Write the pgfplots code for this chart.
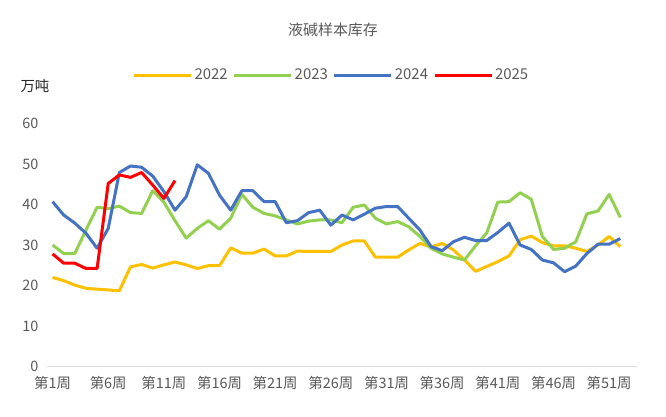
\documentclass[border=0pt]{standalone}
\usepackage{fontspec}
\setmainfont{Noto Sans CJK SC}
\usepackage{pgfplots}
\usepackage{pgfplotstable}
\pgfplotsset{compat=1.18}
\definecolor{c22}{HTML}{FFC000}
\definecolor{c23}{HTML}{92D050}
\definecolor{c24}{HTML}{4472C4}
\definecolor{c25}{HTML}{FF0000}
\definecolor{txt}{HTML}{595959}
\definecolor{axl}{HTML}{D9D9D9}

\pgfplotstableread{
w y
1 22.0
2 21.2
3 20.1
4 19.3
5 19.1
6 18.9
7 18.7
8 24.6
9 25.2
10 24.3
11 25.1
12 25.8
13 25.1
14 24.2
15 24.9
16 24.9
17 29.3
18 28.0
19 28.0
20 29.0
21 27.3
22 27.3
23 28.5
24 28.4
25 28.4
26 28.4
27 30.0
28 31.0
29 31.0
30 27.0
31 27.0
32 27.0
33 28.8
34 30.4
35 29.5
36 30.4
37 28.8
38 26.3
39 23.5
40 24.7
41 25.9
42 27.3
43 31.3
44 32.2
45 30.6
46 29.8
47 29.8
48 29.2
49 28.4
50 30.0
51 32.1
52 29.6
}\tabA

\pgfplotstableread{
w y
1 30.0
2 27.9
3 27.9
4 33.7
5 39.3
6 39.0
7 39.6
8 38.0
9 37.8
10 43.4
11 40.6
12 36.0
13 31.7
14 34.1
15 36.0
16 33.9
17 36.6
18 42.5
19 39.3
20 37.8
21 37.2
22 36.2
23 35.2
24 35.9
25 36.2
26 36.2
27 35.5
28 39.3
29 39.9
30 36.6
31 35.2
32 35.8
33 34.5
34 32.1
35 29.2
36 27.8
37 27.0
38 26.3
39 29.8
40 33.0
41 40.6
42 40.7
43 42.9
44 41.3
45 32.1
46 28.9
47 29.2
48 30.8
49 37.7
50 38.4
51 42.5
52 36.8
}\tabB

\pgfplotstableread{
w y
1 40.7
2 37.4
3 35.4
4 32.9
5 29.2
6 34.1
7 47.9
8 49.5
9 49.2
10 47.0
11 43.2
12 38.6
13 41.9
14 49.8
15 47.7
16 42.3
17 38.6
18 43.4
19 43.4
20 40.7
21 40.7
22 35.5
23 36.0
24 38.0
25 38.6
26 34.9
27 37.4
28 36.2
29 37.6
30 39.1
31 39.5
32 39.5
33 36.6
34 33.7
35 29.6
36 28.6
37 30.8
38 31.9
39 31.1
40 31.1
41 33.1
42 35.4
43 30.0
44 28.9
45 26.3
46 25.6
47 23.4
48 24.8
49 27.9
50 30.2
51 30.2
52 31.6
}\tabC

\pgfplotstableread{
w y
1 27.8
2 25.5
3 25.5
4 24.2
5 24.2
6 45.2
7 47.3
8 46.7
9 47.9
10 44.8
11 41.5
12 45.9
}\tabD

\begin{document}
\begin{tikzpicture}[x=1bp,y=1bp]
\path (-47,-49.5) rectangle (619,366.5);
\begin{axis}[
  at={(0,0)}, anchor=south west,
  scale only axis, width=590bp, height=243bp,
  xmin=0.5, xmax=53.5, ymin=0, ymax=60,
  axis line style={draw=none},
  major tick length=0pt,
  xtick={1,6,11,16,21,26,31,36,41,46,51},
  xticklabels={第1周,第6周,第11周,第16周,第21周,第26周,第31周,第36周,第41周,第46周,第51周},
  ytick={0,10,20,30,40,50,60},
  /pgf/number format/assume math mode=true,
  tick label style={font=\fontsize{14.5}{16}\selectfont, text=txt},
  xticklabel style={yshift=-6.5bp},
  yticklabel style={xshift=-5bp},
  legend columns=4,
  legend style={draw=none, fill=none, at={(0.482,1.1996)}, anchor=center,
    font=\fontsize{15}{17}\selectfont, text=txt,
    /tikz/every even column/.append style={column sep=3bp}},
  legend image code/.code={\draw[#1, line width=3bp] (0bp,0bp) -- (57bp,0bp);},
  every axis plot/.append style={line width=3bp, line join=round, mark=none},
  clip=false,
]
\draw[axl, line width=1bp] (rel axis cs:0,0) -- (rel axis cs:1,0);
\addplot[c22] table[x=w,y=y] {\tabA};
\addlegendentry{2022}
\addplot[c23] table[x=w,y=y] {\tabB};
\addlegendentry{2023}
\addplot[c24] table[x=w,y=y] {\tabC};
\addlegendentry{2024}
\addplot[c25] table[x=w,y=y] {\tabD};
\addlegendentry{2025}
\end{axis}
\node[text=txt, font=\fontsize{15}{17}\selectfont] at (286,336.5) {液碱样本库存};
\node[text=black!85, font=\fontsize{14.5}{16}\selectfont] at (-12,280.5) {万吨};
\end{tikzpicture}
\end{document}
